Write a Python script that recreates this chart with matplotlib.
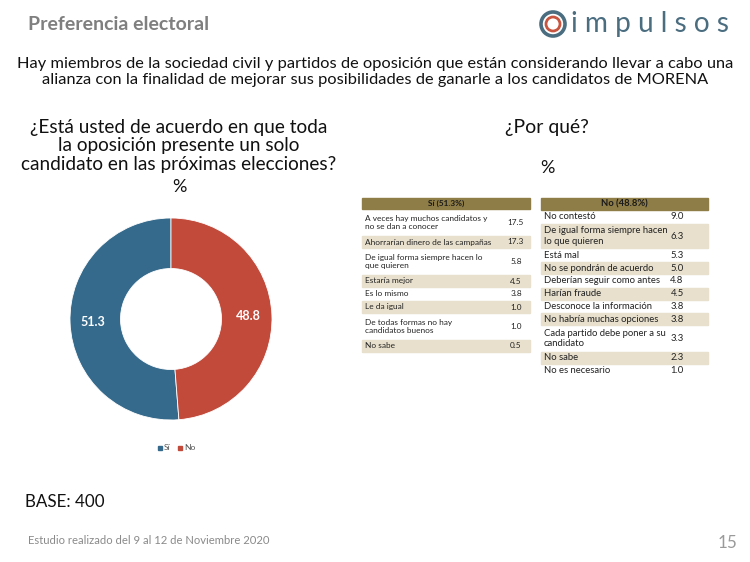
import numpy as np
import matplotlib.pyplot as plt
from matplotlib.patches import Rectangle, Circle

# data
pie_labels = ['Sí', 'No']
pie_values = [51.3, 48.8]
pie_colors = ['#356a8c', '#c24a3b']

si_header = 'Sí (51.3%)'
si_reasons = ['A veces hay muchos candidatos y\nno se dan a conocer',
              'Ahorrarían dinero de las campañas',
              'De igual forma siempre hacen lo\nque quieren',
              'Estaría mejor',
              'Es lo mismo',
              'Le da igual',
              'De todas formas no hay\ncandidatos buenos',
              'No sabe']
si_values = [17.5, 17.3, 5.8, 4.5, 3.8, 1.0, 1.0, 0.5]

no_header = 'No (48.8%)'
no_reasons = ['No contestó',
              'De igual forma siempre hacen\nlo que quieren',
              'Está mal',
              'No se pondrán de acuerdo',
              'Deberían seguir como antes',
              'Harían fraude',
              'Desconoce la información',
              'No habría muchas opciones',
              'Cada partido debe poner a su\ncandidato',
              'No sabe',
              'No es necesario']
no_values = [9.0, 6.3, 5.3, 5.0, 4.8, 4.5, 3.8, 3.8, 3.3, 2.3, 1.0]

plt.rcParams['font.family'] = ['Lato', 'DejaVu Sans']

fig = plt.figure(figsize=(7.5, 5.62), dpi=100)
bg = fig.add_axes([0, 0, 1, 1])
bg.set_xlim(0, 750)
bg.set_ylim(562, 0)
bg.axis('off')

PT = 0.72  # px -> pt

# header
bg.text(28, 24, 'Preferencia electoral', fontsize=19.5 * PT, color='#7f7f7f',
        fontweight='bold', va='center', ha='left')
bg.add_patch(Circle((553, 24), 12, fill=False, ec='#4b6d80', lw=2.6))
bg.add_patch(Circle((553, 24), 7, fill=False, ec='#c8553f', lw=2.0))
bg.text(571, 24, 'i m p u l s o s', fontsize=28 * PT, color='#4b6d80',
        va='center', ha='left')

bg.text(375, 72, 'Hay miembros de la sociedad civil y partidos de oposición que están considerando llevar a cabo una\n'
        'alianza con la finalidad de mejorar sus posibilidades de ganarle a los candidatos de MORENA',
        fontsize=16.4 * PT, ha='center', va='center', linespacing=1.12, color='#111111')

bg.text(179, 146, '¿Está usted de acuerdo en que toda\nla oposición presente un solo\n'
        'candidato en las próximas elecciones?', fontsize=19 * PT, ha='center',
        va='center', linespacing=1.08, color='#111111')
bg.text(179, 187, '%', fontsize=18 * PT, ha='center', va='center', color='#111111')
bg.text(547, 128, '¿Por qué?', fontsize=19.4 * PT, ha='center', va='center', color='#111111')
bg.text(547, 168, '%', fontsize=18 * PT, ha='center', va='center', color='#111111')

# donut
pax = fig.add_axes([70 / 750, 1 - 420 / 562, 202 / 750, 202 / 562])
wedges, _ = pax.pie(pie_values, colors=pie_colors, startangle=90, counterclock=True,
                    wedgeprops=dict(width=0.5, edgecolor='white', linewidth=0.6))
pax.set_xlim(-1, 1)
pax.set_ylim(-1, 1)
pax.set_aspect('equal')
for w, v in zip(wedges, pie_values):
    ang = np.deg2rad((w.theta1 + w.theta2) / 2)
    pax.text(0.77 * np.cos(ang), 0.77 * np.sin(ang), f'{v:.1f}', color='white',
             fontsize=12.5 * PT, fontweight='bold', ha='center', va='center')

# legend
lx = 158
for lab, col in zip(pie_labels, pie_colors):
    bg.add_patch(Rectangle((lx, 446), 4, 4, color=col))
    bg.text(lx + 6, 448, lab, fontsize=8.5 * PT, color='#555555', va='center', ha='left')
    lx += 20

HEAD = '#8f7d48'
SHADE = '#e8e0cd'


def draw_table(x0, x1, valx, y0, hh, header, reasons, values, fs, unit):
    bg.add_patch(Rectangle((x0, y0), x1 - x0, hh, color=HEAD))
    bg.text((x0 + x1) / 2, y0 + hh / 2, header, fontsize=fs, color='#1a1a1a',
            fontweight='bold', ha='center', va='center')
    y = y0 + hh + 1
    for i, (r, v) in enumerate(zip(reasons, values)):
        n = r.count('\n') + 1
        h = unit * n
        if i % 2 == 1:
            bg.add_patch(Rectangle((x0, y), x1 - x0, h - 1, color=SHADE))
        bg.text(x0 + 3, y + h / 2 - 0.5, r, fontsize=fs, ha='left', va='center',
                color='#222222', linespacing=1.25)
        bg.text(valx, y + h / 2 - 0.5, f'{v:.1f}', fontsize=fs, ha='center', va='center',
                color='#222222')
        y += h


draw_table(362, 530, 516, 198, 11, si_header, si_reasons, si_values, 8.3 * PT, 13.0)
draw_table(541, 708, 677, 198, 12, no_header, no_reasons, no_values, 9.5 * PT, 12.8)

# footer
bg.text(25, 502, 'BASE: 400', fontsize=17 * PT, ha='left', va='center', color='#111111')
bg.text(28, 540, 'Estudio realizado del 9 al 12 de Noviembre 2020', fontsize=11.3 * PT,
        color='#8a8a8a', ha='left', va='center')
bg.text(737, 543, '15', fontsize=17 * PT, color='#9a9a9a', ha='right', va='center')

fig.savefig('out.png', dpi=100)
